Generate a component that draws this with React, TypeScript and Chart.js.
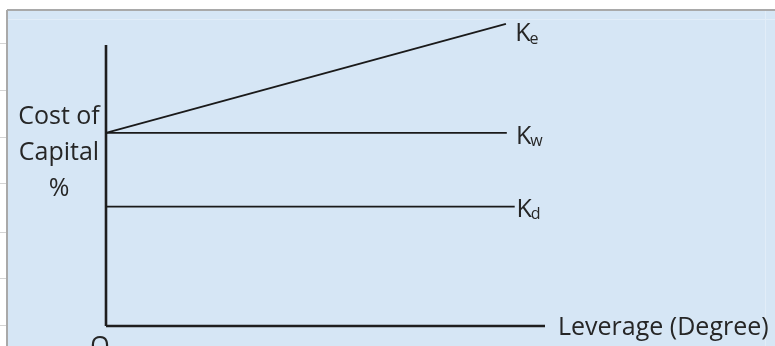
import React, { useEffect, useRef } from "react";
import { Chart, registerables } from "chart.js";

Chart.register(...registerables);

// ---- data ----
const seriesNames = ["K", "K", "K"];
const seriesSubs = ["e", "w", "d"];
const startX = [0, 0, 0];
const endX = [91.1, 91.3, 93.1];
const startY = [63.1, 63.1, 39];
const endY = [98.7, 63.1, 39];
const labelX = [93.2, 93.4, 93.5];
const labelDy = [10, 4, 3];
const yAxisTop = 91.8;
const xAxisEnd = 100;
const yTitleLines = ["Cost of", "Capital", "%"];
const xTitle = "Leverage (Degree)";
const originLabel = "O";

const FONT = "'Open Sans', 'Noto Sans', sans-serif";
const TEXT = "#262626";

const bgPlugin = {
  id: "bg",
  beforeDraw(chart: any) {
    const ctx = chart.ctx;
    const W = chart.width;
    const H = chart.height;
    ctx.save();
    ctx.fillStyle = "#ffffff";
    ctx.fillRect(0, 0, W, H);
    // spreadsheet grid lines at the left
    ctx.strokeStyle = "#d4d4d4";
    ctx.lineWidth = 1;
    [43, 90, 137, 183, 232, 278, 325].forEach((y) => {
      ctx.beginPath();
      ctx.moveTo(0, y + 0.5);
      ctx.lineTo(7, y + 0.5);
      ctx.stroke();
    });
    // blue box
    ctx.fillStyle = "#d6e6f5";
    ctx.fillRect(8, 11, W - 8, H - 11);
    ctx.strokeStyle = "#e2edf8";
    ctx.beginPath();
    ctx.moveTo(8, 19.5);
    ctx.lineTo(W, 19.5);
    ctx.moveTo(765.5, 11);
    ctx.lineTo(765.5, H);
    ctx.stroke();
    // border
    ctx.strokeStyle = "#a9a9a9";
    ctx.lineWidth = 2;
    ctx.beginPath();
    ctx.moveTo(7, 10);
    ctx.lineTo(W, 10);
    ctx.moveTo(7, 10);
    ctx.lineTo(7, H);
    ctx.stroke();
    ctx.restore();
  },
};

const textPlugin = {
  id: "texts",
  afterDatasetsDraw(chart: any) {
    const ctx = chart.ctx;
    const xs = chart.scales.x;
    const ys = chart.scales.y;
    ctx.save();
    ctx.fillStyle = TEXT;
    // series labels
    seriesNames.forEach((n, i) => {
      const px = xs.getPixelForValue(labelX[i]);
      const py = ys.getPixelForValue(endY[i]) + labelDy[i];
      ctx.font = `25px ${FONT}`;
      ctx.textAlign = "left";
      ctx.textBaseline = "middle";
      ctx.fillText(n, px, py);
      const w = ctx.measureText(n).width;
      ctx.font = `16px ${FONT}`;
      ctx.fillText(seriesSubs[i], px + w - 1, py + 5);
    });
    // y title
    ctx.font = `25px ${FONT}`;
    ctx.textAlign = "center";
    ctx.textBaseline = "alphabetic";
    const cx = 59;
    [124, 160, 196].forEach((y, i) => ctx.fillText(yTitleLines[i], cx, y));
    // x title
    ctx.textAlign = "left";
    ctx.textBaseline = "middle";
    ctx.fillText(xTitle, xs.getPixelForValue(xAxisEnd) + 13, ys.getPixelForValue(0) + 2);
    // origin
    ctx.textAlign = "center";
    ctx.textBaseline = "alphabetic";
    ctx.fillText(originLabel, xs.getPixelForValue(0) - 6, ys.getPixelForValue(0) + 28);
    ctx.restore();
  },
};

export default function App() {
  const ref = useRef<HTMLCanvasElement | null>(null);
  useEffect(() => {
    if (!ref.current) return;
    const datasets: any[] = seriesNames.map((n, i) => ({
      label: n + seriesSubs[i],
      data: [
        { x: startX[i], y: startY[i] },
        { x: endX[i], y: endY[i] },
      ],
      borderColor: "#1a1a1a",
      borderWidth: 1.8,
      pointRadius: 0,
      clip: false,
    }));
    datasets.push({
      label: "y-axis",
      data: [
        { x: 0, y: 0 },
        { x: 0, y: yAxisTop },
      ],
      borderColor: "#1e1e1e",
      borderWidth: 2.6,
      pointRadius: 0,
      clip: false,
    });
    datasets.push({
      label: "x-axis",
      data: [
        { x: 0, y: 0 },
        { x: xAxisEnd, y: 0 },
      ],
      borderColor: "#1e1e1e",
      borderWidth: 2.6,
      pointRadius: 0,
      clip: false,
    });
    const chart = new Chart(ref.current, {
      type: "line",
      data: { datasets },
      options: {
        animation: false,
        responsive: false,
        devicePixelRatio: 1,
        layout: { padding: { left: 106, right: 230, top: 20, bottom: 20 } },
        scales: {
          x: { type: "linear", min: 0, max: 100, display: false },
          y: { type: "linear", min: 0, max: 100, display: false },
        },
        plugins: { legend: { display: false }, tooltip: { enabled: false } },
      },
      plugins: [bgPlugin, textPlugin],
    } as any);
    return () => chart.destroy();
  }, []);
  return (
    <div style={{ position: "fixed", left: 0, top: 0, width: 775, height: 346, overflow: "hidden" }}>
      <canvas ref={ref} width={775} height={346} style={{ display: "block" }} />
    </div>
  );
}
